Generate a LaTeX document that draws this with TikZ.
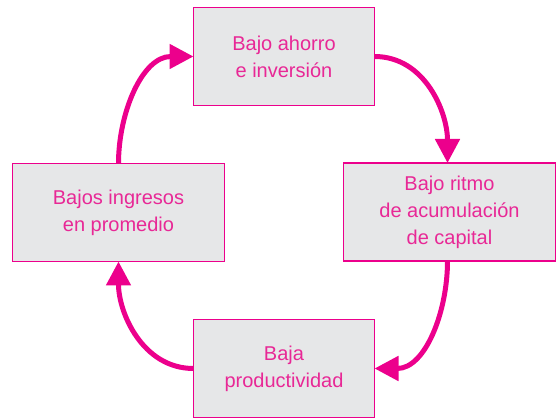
\documentclass[tikz,border=0pt]{standalone}
\usepackage{fontspec}
\setmainfont{Liberation Sans}
\usetikzlibrary{arrows.meta}
\definecolor{boxgray}{RGB}{230,231,232}
\definecolor{cyclepink}{RGB}{236,0,140}
\definecolor{textpink}{RGB}{232,40,150}

\begin{document}
\begin{tikzpicture}[x=1pt,y=1pt,every node/.style={font=\fontsize{20}{27}\selectfont}]
  \tikzstyle{stage}=[draw=cyclepink, line width=1.3pt, fill=boxgray, text=textpink, align=center, minimum height=98pt, outer sep=0pt, inner sep=0pt]
  \tikzstyle{loop}=[draw=cyclepink, line width=5pt, -{Triangle[length=24pt,width=24pt]}]
  \useasboundingbox (0,0) rectangle (557,420);
  \node[stage, minimum width=181pt] (ahorro) at (284,363.5) {Bajo ahorro\\e inversión};
  \node[stage, minimum width=212pt] (capital) at (449.5,208) {Bajo ritmo\\de acumulación\\de capital};
  \node[stage, minimum width=181pt] (prod) at (284,51.5) {Baja\\productividad};
  \node[stage, minimum width=212pt] (ingresos) at (118.5,207.5) {Bajos ingresos\\en promedio};
  % ciclo
  \draw[loop] (ahorro.east) to[out=0,in=90] ([xshift=-2pt]capital.north);
  \draw[loop] ([xshift=-2pt]capital.south) to[out=-90,in=0] (prod.east);
  \draw[loop] (prod.west) to[out=180,in=-90] (ingresos.south);
  \draw[loop] (ingresos.north) to[out=90,in=180] (ahorro.west);
\end{tikzpicture}
\end{document}
